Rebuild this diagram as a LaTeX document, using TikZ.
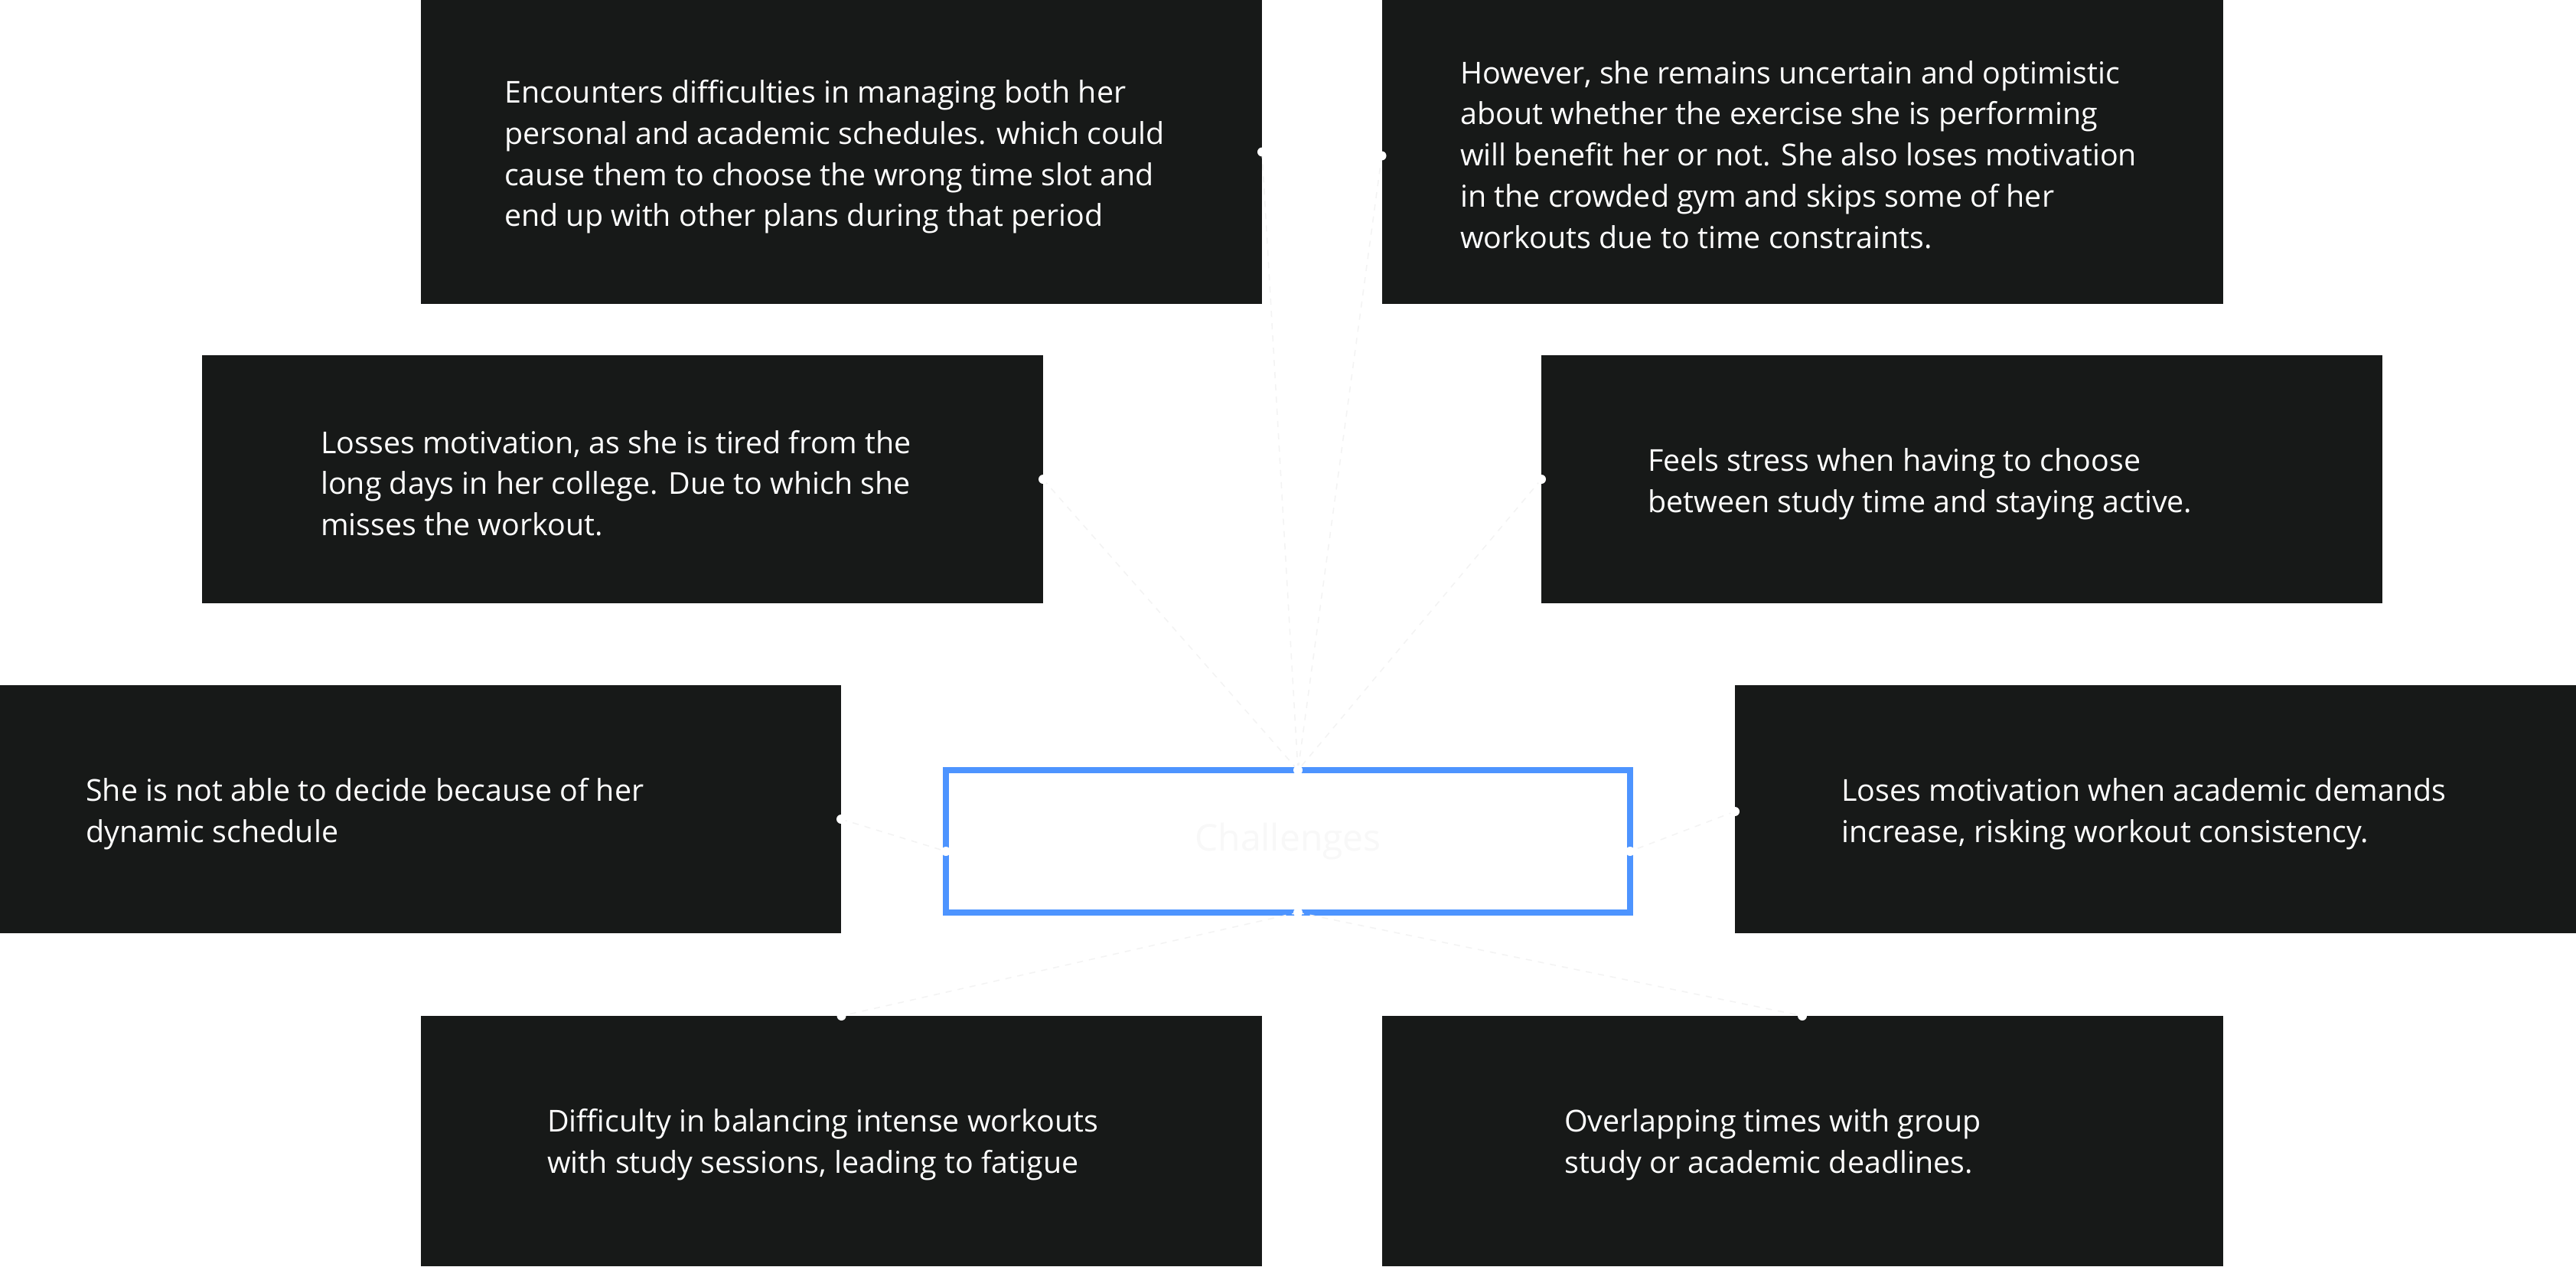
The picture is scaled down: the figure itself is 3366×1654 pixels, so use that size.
\documentclass[tikz,border=0pt]{standalone}
\usepackage{fontspec}
\setmainfont{Open Sans}
\usetikzlibrary{calc}
\definecolor{boxbg}{HTML}{171918}
\definecolor{accent}{HTML}{4D94FF}
\definecolor{ghost}{HTML}{F3F3F3}
\definecolor{ghosttext}{HTML}{F8F8F8}
\begin{document}
\begin{tikzpicture}[x=1pt,y=-1pt,
  darkbox/.style={fill=boxbg, draw=none, inner sep=0pt, outer sep=0pt, minimum width=1099pt, minimum height=324pt},
  txt/.style={text=white, align=left, anchor=west, inner sep=0pt, font=\fontsize{39.4}{53.7}\selectfont},
  link/.style={draw=ghost, line width=1.5pt, dash pattern=on 8pt off 8pt},
  pin/.style={fill=white}]
\useasboundingbox (0,0) rectangle (3366,1654);
\fill[white] (0,0) rectangle (3366,1654);
% boxes
\node[darkbox, minimum height=397pt] (tl) at (1099.5,198.5) {};
\node[darkbox, minimum height=397pt] (tr) at (2355,198.5) {};
\node[darkbox] (ml) at (813.5,626) {};
\node[darkbox] (mr) at (2563.5,626) {};
\node[darkbox] (l) at (549.5,1057) {};
\node[darkbox] (r) at (2816.5,1057) {};
\node[darkbox, minimum height=327pt] (bl) at (1099.5,1490.5) {};
\node[darkbox, minimum height=327pt] (br) at (2355,1490.5) {};
% center
\node[draw=accent, line width=8pt, fill=white, minimum width=894pt, minimum height=186pt, inner sep=0pt, outer sep=0pt, text=ghosttext, font=\fontsize{48}{58}\selectfont] (c) at (1683,1099) {Challenges};
% texts
\node[txt] (tlt) at (659,205) {Encounters difficulties in managing both her\\personal and academic schedules. which could\\cause them to choose the wrong time slot and\\end up with other plans during that period};
\node[txt] (trt) at (1908,202) {However, she remains uncertain and optimistic\\about whether the exercise she is performing\\will benefit her or not. She also loses motivation\\in the crowded gym and skips some of her\\workouts due to time constraints.};
\node[txt] (mlt) at (419,631) {Losses motivation, as she is tired from the\\long days in her college. Due to which she\\misses the workout.};
\node[txt] (mrt) at (2153,632) {Feels stress when having to choose\\between study time and staying active.};
\node[txt] (lt) at (112,1063) {She is not able to decide because of her\\dynamic schedule};
\node[txt] (rt) at (2406,1063) {Loses motivation when academic demands\\increase, risking workout consistency.};
\node[txt] (blt) at (715,1495) {Difficulty in balancing intense workouts\\with study sessions, leading to fatigue};
\node[txt] (brt) at (2044,1495) {Overlapping times with group\\study or academic deadlines.};
% anchor points
\coordinate (ct) at ($(c.north)+(13,0)$);
\coordinate (cb) at ($(c.south)+(13,0)$);
\coordinate (cw) at ($(c.west)+(0,13)$);
\coordinate (ce) at ($(c.east)+(0,13)$);
\coordinate (le) at ($(l.east)+(0,13)$);
\coordinate (rw) at ($(r.west)+(0,3)$);
\coordinate (tre) at ($(tr.west)+(0,5)$);
% connectors
\draw[link] (tl.east) -- (ct);
\draw[link] (tre) -- (ct);
\draw[link] (ml.east) -- (ct);
\draw[link] (mr.west) -- (ct);
\draw[link] (le) -- (cw);
\draw[link] (rw) -- (ce);
\draw[link] (cb) -- (bl.north);
\draw[link] (cb) -- (br.north);
% dots
\foreach \p in {tl.east, tre, ml.east, mr.west, le, rw, bl.north, br.north, ct, cb, cw, ce}
  \fill[pin] (\p) circle (6pt);
\end{tikzpicture}
\end{document}
